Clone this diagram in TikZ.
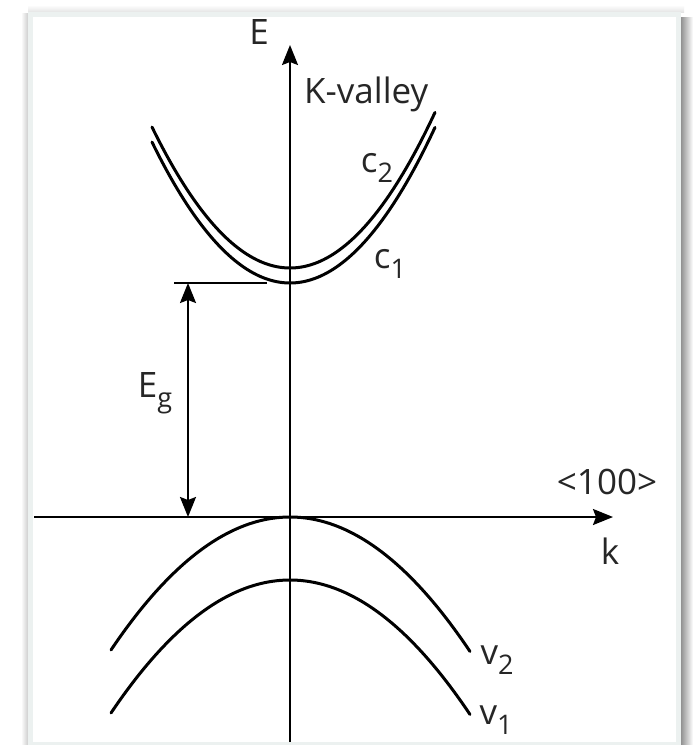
\documentclass[tikz,border=0pt]{standalone}
\usepackage{fontspec}
\setmainfont{Open Sans}
\usetikzlibrary{arrows.meta}
\definecolor{framecol}{RGB}{236,241,240}
\newcommand\lowsub[1]{\raisebox{-0.3em}{\fontsize{27bp}{30bp}\selectfont #1}}
\begin{document}
\begin{tikzpicture}[x=1bp,y=-1bp,
  band/.style={line width=3bp, line cap=round},
  axis/.style={line width=2bp},
  lbl/.style={font=\fontsize{35bp}{40bp}\selectfont, inner sep=0pt, text=black!85},
  tipend/.style={-{Stealth[length=20bp,width=16bp,inset=3bp]}},
  tipboth/.style={{Stealth[length=20bp,width=16bp,inset=3bp]}-{Stealth[length=20bp,width=16bp,inset=3bp]}}]
\useasboundingbox (0,0) rectangle (695,745);
\fill[white] (0,0) rectangle (695,745);
% frame and shadow
\shade[left color=white,right color=black!22] (21,14) rectangle (29,745);
\shade[top color=white,bottom color=black!12] (28,5) rectangle (684,13);
\shade[left color=black!50,right color=white] (679,18) rectangle (693,745);
\fill[framecol] (28,12) rectangle (681,745);
\fill[white] (33,17) rectangle (676,742);
% axes
\coordinate (O) at (290,517);
\coordinate (Ytop) at (290,45);
\coordinate (Ybot) at (290,742);
\coordinate (Xl) at (34,517);
\coordinate (Xr) at (613,517);
\draw[axis,tipend] (Ybot) -- (Ytop);
\draw[axis,tipend] (Xl) -- (Xr);
% conduction bands
\draw[band] plot[domain=-13.8:14.5, samples=90] ({290+10*\x},{268-0.74*\x*\x});
\draw[band] plot[domain=-13.8:14.5, samples=90] ({290+10*\x},{283-0.74*\x*\x});
% valence bands
\draw[band] plot[domain=-17.9:18, samples=90] ({290+10*\x},{517+0.415*\x*\x});
\draw[band] plot[domain=-17.9:18, samples=90] ({290+10*\x},{580+0.415*\x*\x});
% gap marker
\coordinate (gapL) at (174,283);
\coordinate (gapR) at (267,283);
\draw[axis] (gapL) -- (gapR);
\coordinate (egTop) at (188,283);
\coordinate (egBot) at (188,517);
\draw[axis,tipboth] (egBot) -- (egTop);
% labels
\node[lbl] (lE) at (259,32) {E};
\node[lbl,anchor=west] (lK) at (304,94) {K-valley};
\node[lbl] (lc2) at (377,168) {c\lowsub{2}};
\node[lbl] (lc1) at (390,264) {c\lowsub{1}};
\node[lbl] (lEg) at (155,393) {E\lowsub{g}};
\node[lbl] (l100) at (607,482) {<100>};
\node[lbl] (lk) at (610,551) {k};
\node[lbl] (lv2) at (497,660) {v\lowsub{2}};
\node[lbl] (lv1) at (496,720) {v\lowsub{1}};
\end{tikzpicture}
\end{document}
